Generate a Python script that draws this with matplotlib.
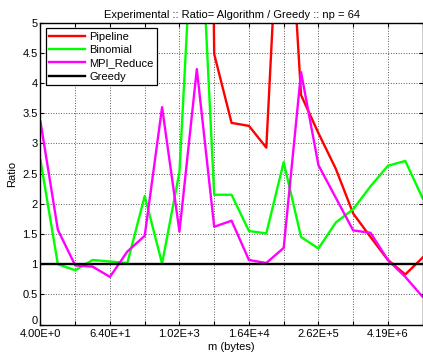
"""Ratio of each algorithm to Greedy, np = 64"""
import matplotlib

matplotlib.use("Agg")
import matplotlib.pyplot as plt
from matplotlib.ticker import FixedLocator, FixedFormatter, NullLocator
from matplotlib.transforms import ScaledTranslation

plt.rcParams["font.family"] = ["Liberation Sans", "DejaVu Sans"]
plt.rcParams["font.size"] = 8

# message sizes: 4 bytes .. 16 MB, doubling
m_bytes = [4, 8, 16, 32, 64, 128, 256, 512, 1024, 2048, 4096, 8192, 16384,
           32768, 65536, 131072, 262144, 524288, 1048576, 2097152, 4194304,
           8388608, 16777216]

pipeline = [30, 30, 30, 30, 30, 30, 30, 30, 30, 30, 4.48, 3.34, 3.29, 2.93,
            8.6, 3.80, 3.17, 2.58, 1.84, 1.45, 1.07, 0.83, 1.11]
binomial = [2.72, 1.00, 0.90, 1.07, 1.045, 1.02, 2.13, 1.01, 2.53, 8.0, 2.15,
            2.15, 1.55, 1.51, 2.69, 1.45, 1.26, 1.69, 1.91, 2.29, 2.63, 2.71,
            2.09]
mpi_reduce = [3.36, 1.57, 0.98, 0.96, 0.79, 1.21, 1.47, 3.60, 1.54, 4.23, 1.62,
              1.72, 1.07, 1.02, 1.27, 4.18, 2.64, 2.10, 1.56, 1.52, 1.07, 0.79,
              0.46]
greedy = [1.0] * len(m_bytes)

tick_vals = [4, 16, 64, 256, 1024, 4096, 16384, 65536, 262144, 1048576,
             4194304, 16777216]
tick_labels = ["4.00E+0", "", "6.40E+1", "", "1.02E+3", "", "1.64E+4", "",
               "2.62E+5", "", "4.19E+6", ""]

fig = plt.figure(figsize=(4.23, 3.55), dpi=100)
ax = fig.add_axes([0.0957, 0.0856, 0.9035, 0.8507])

lw = 1.7
ax.plot(m_bytes, pipeline, color=(1, 0, 0), lw=lw, label="Pipeline")
ax.plot(m_bytes, binomial, color=(0, 1, 0), lw=lw, label="Binomial")
ax.plot(m_bytes, mpi_reduce, color=(1, 0, 1), lw=lw, label="MPI_Reduce")
ax.plot(m_bytes, greedy, color="black", lw=lw, label="Greedy")

ax.set_xscale("log", base=2)
ax.set_xlim(m_bytes[0], m_bytes[-1])
ax.set_ylim(0, 5)
ax.xaxis.set_major_locator(FixedLocator(tick_vals))
ax.xaxis.set_major_formatter(FixedFormatter(tick_labels))
ax.xaxis.set_minor_locator(NullLocator())
ax.set_yticks([0, 0.5, 1, 1.5, 2, 2.5, 3, 3.5, 4, 4.5, 5])
ax.set_yticklabels(["0", "0.5", "1", "1.5", "2", "2.5", "3", "3.5", "4",
                    "4.5", "5"])
ax.tick_params(direction="in", length=3, width=0.8, top=True, right=True,
               labelsize=8, pad=2, colors="black")
ax.tick_params(axis="x", pad=3)
ax.grid(True, ls=":", color="0.35", lw=0.7)
for s in ax.spines.values():
    s.set_linewidth(1.0)

# lift the "0" label a little so it clears the first x label
zero_lbl = ax.yaxis.get_major_ticks()[0].label1
zero_lbl.set_transform(zero_lbl.get_transform()
                       + ScaledTranslation(0, 3 / 72, fig.dpi_scale_trans))

ax.set_title("Experimental :: Ratio= Algorithm / Greedy :: np = 64",
             fontsize=8, pad=3)
ax.set_xlabel("m (bytes)", fontsize=8, labelpad=2)
ax.set_ylabel("Ratio", fontsize=8, labelpad=4)

leg = ax.legend(loc="upper left", bbox_to_anchor=(0.0136, 0.981),
                borderaxespad=0, fancybox=False, framealpha=1,
                edgecolor="black", fontsize=8, handlelength=3.2,
                labelspacing=0.3, borderpad=0.3, handletextpad=0.4)
leg.get_frame().set_linewidth(0.9)

fig.savefig("out.png", dpi=100)
plt.close(fig)
